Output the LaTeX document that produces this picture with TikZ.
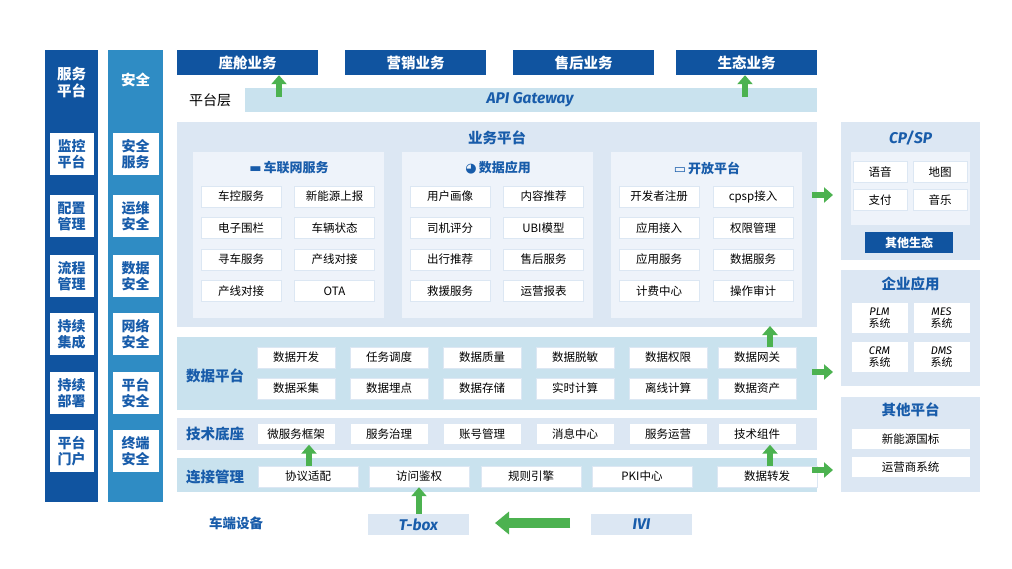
\documentclass[tikz,border=0pt]{standalone}
\usepackage{fontspec}
\setmainfont{Noto Sans CJK SC}
\newfontfamily\latf{Fira Sans}
\newfontfamily\symf{DejaVu Sans}
\usetikzlibrary{positioning,arrows.meta}
\definecolor{darkblue}{RGB}{16,84,160}
\definecolor{midblue}{RGB}{47,140,196}
\definecolor{paleblue}{RGB}{220,231,243}
\definecolor{palecyan}{RGB}{201,226,238}
\definecolor{inner}{RGB}{238,243,250}
\definecolor{textblue}{RGB}{24,92,170}
\definecolor{arrowgreen}{RGB}{76,178,80}
\tikzset{
  item/.style={draw=paleblue, fill=white, minimum width=78pt, minimum height=21pt, inner sep=0pt, font=\fontsize{11.5}{13}\selectfont},
  side/.style={fill=white, minimum width=44pt, minimum height=42pt, inner sep=0pt, align=center, font=\fontsize{14}{16}\selectfont\bfseries, text=textblue},
  biz/.style={fill=darkblue, text=white, minimum width=141pt, minimum height=25pt, inner sep=0pt, font=\fontsize{14.5}{16}\selectfont\bfseries},
  layer/.style={font=\fontsize{14.5}{16}\selectfont\bfseries, text=textblue},
  garrow/.style={arrowgreen, line width=6pt, -{Triangle[length=9pt,width=15pt]}},
}
\begin{document}
\begin{tikzpicture}[x=1pt,y=-1pt]
\useasboundingbox[fill=white] (0,0) rectangle (1012,568);

% left columns
\fill[darkblue] (45,50) rectangle (98,502);
\fill[midblue] (108,50) rectangle (163,502);
\node[text=white, align=center, font=\fontsize{14.5}{17}\selectfont\bfseries] (svc) at (71.5,82) {服务\\平台};
\node[text=white, font=\fontsize{14.5}{17}\selectfont\bfseries] (sec) at (135.5,80) {安全};
\foreach \t/\y [count=\i] in {监控\\平台/154, 配置\\管理/216, 流程\\管理/276, 持续\\集成/334, 持续\\部署/393, 平台\\门户/451}
  \node[side] (l\i) at (71.5,\y) {\t};
\foreach \t/\y [count=\i] in {安全\\服务/154, 运维\\安全/216, 数据\\安全/276, 网络\\安全/334, 平台\\安全/393, 终端\\安全/451}
  \node[side, minimum width=46pt] (s\i) at (135.5,\y) {\t};

% top business
\node[biz] (cab) at (247.5,62.5) {座舱业务};
\node[biz] (mkt) at (415.5,62.5) {营销业务};
\node[biz] (aft) at (583.5,62.5) {售后业务};
\node[biz] (eco) at (746.5,62.5) {生态业务};
\node[font=\fontsize{14}{16}\selectfont] (plat) at (210,100) {平台层};
\fill[palecyan] (245,88) rectangle (817,112);
\node[text=textblue, font=\latf\fontsize{15.5}{17}\selectfont\bfseries\itshape] (api) at (530,100) {API Gateway};
\draw[garrow] (279,97) -- (cab.south -| 279,0);
\draw[garrow] (745,97) -- (eco.south -| 745,0);

% business platform
\fill[paleblue] (177,122) rectangle (817,327);
\node[layer] (bizp) at (497,138) {业务平台};
\foreach \x in {193,402,611} \fill[inner] (\x,152) rectangle (\x+191,318);
\node[layer, font=\fontsize{13}{15}\selectfont\bfseries] (t1) at (289,168) {{\symf ▬}\,车联网服务};
\node[layer, font=\fontsize{13}{15}\selectfont\bfseries] (t2) at (498,168) {{\symf ◕}\,数据应用};
\node[layer, font=\fontsize{13}{15}\selectfont\bfseries] (t3) at (707,168) {{\symf ▭}\,开放平台};
\foreach \a/\b [count=\i] in {车控服务/新能源上报, 电子围栏/车辆状态, 寻车服务/产线对接, 产线对接/OTA} {
  \node[item, minimum width=80pt] (a\i) at (241,165+31.5*\i) {\a};
  \node[item, minimum width=80pt] (b\i) at (334.5,165+31.5*\i) {\b};
}
\foreach \a/\b [count=\i] in {用户画像/内容推荐, 司机评分/UBI模型, 出行推荐/售后服务, 救援服务/运营报表} {
  \node[item, minimum width=80pt] (c\i) at (450,165+31.5*\i) {\a};
  \node[item, minimum width=80pt] (d\i) at (543.5,165+31.5*\i) {\b};
}
\foreach \a/\b [count=\i] in {开发者注册/cpsp接入, 应用接入/权限管理, 应用服务/数据服务, 计费中心/操作审计} {
  \node[item, minimum width=80pt] (e\i) at (659,165+31.5*\i) {\a};
  \node[item, minimum width=80pt] (f\i) at (753,165+31.5*\i) {\b};
}

% data platform
\fill[palecyan] (177,337) rectangle (817,410);
\node[layer] (datap) at (215,376) {数据平台};
\foreach \a/\b/\x [count=\i] in {数据开发/数据采集/296, 任务调度/数据埋点/389, 数据质量/数据存储/482, 数据脱敏/实时计算/575, 数据权限/离线计算/668, 数据网关/数据资产/757} {
  \node[item] (dp\i) at (\x,357.5) {\a};
  \node[item] (dq\i) at (\x,388.5) {\b};
}
\draw[garrow] (dp6.north -| 770,0) -- (770,326);

% tech base
\fill[paleblue] (177,418) rectangle (817,450);
\node[layer] (techp) at (215,434) {技术底座};
\foreach \a/\x [count=\i] in {微服务框架/296, 服务治理/389, 账号管理/482, 消息中心/575, 服务运营/668, 技术组件/757}
  \node[item] (tb\i) at (\x,434) {\a};

% connection management
\fill[palecyan] (177,458) rectangle (817,492);
\node[layer] (connp) at (215,477) {连接管理};
\foreach \a/\x [count=\i] in {协议适配/308, 访问鉴权/419, 规则引擎/531, PKI中心/642, 数据转发/767}
  \node[item, minimum width=100pt] (cm\i) at (\x,476.5) {\a};
\draw[garrow] (cm1.north -| 309,0) -- (tb1.south -| 309,0);
\draw[garrow] (cm5.north -| 770,0) -- (tb6.south -| 770,0);

% vehicle side
\node[text=textblue, font=\fontsize{13.5}{15}\selectfont\bfseries] (veh) at (236,523) {车端设备};
\node[fill=paleblue, minimum width=101pt, minimum height=21pt, inner sep=0pt, text=textblue, font=\latf\fontsize{15.5}{17}\selectfont\bfseries\itshape] (tbox) at (418.5,524.5) {T-box};
\node[fill=paleblue, minimum width=101pt, minimum height=21pt, inner sep=0pt, text=textblue, font=\latf\fontsize{15.5}{17}\selectfont\bfseries\itshape] (ivi) at (641.5,524.5) {IVI};
\draw[garrow] (tbox.north -| 419,0) -- (cm2.south -| 419,0);
\draw[arrowgreen, line width=10pt, -{Triangle[length=14pt,width=22pt]}] (570,523) -- (495,523);

% right side
\fill[paleblue] (841,122) rectangle (980,260);
\node[layer, font=\latf\fontsize{15.5}{17}\selectfont\bfseries\itshape] (cpsp) at (910.5,138) {CP/SP};
\fill[inner] (851,152) rectangle (970,225);
\foreach \t/\x/\y [count=\i] in {语音/880/172, 地图/940/172, 支付/880/200, 音乐/940/200}
  \node[item, minimum width=54pt] (cp\i) at (\x,\y) {\t};
\node[fill=darkblue, text=white, minimum width=88pt, minimum height=21pt, inner sep=0pt, font=\fontsize{12}{14}\selectfont\bfseries] (oeco) at (909,242.5) {其他生态};

\fill[paleblue] (841,270) rectangle (980,386);
\node[layer] (ent) at (910.5,284) {企业应用};
\foreach \a/\x/\y [count=\i] in {PLM/879.5/318, MES/941.5/318, CRM/879.5/357, DMS/941.5/357}
  \node[item, minimum width=57pt, minimum height=31pt, align=center, font=\fontsize{11}{12}\selectfont] (en\i) at (\x,\y) {{\latf\itshape \a}\\系统};

\fill[paleblue] (841,397) rectangle (980,492);
\node[layer] (oth) at (910.5,410) {其他平台};
\node[item, minimum width=119pt] (ot1) at (910.5,439) {新能源国标};
\node[item, minimum width=119pt] (ot2) at (910.5,467) {运营商系统};

\draw[garrow] (812,195) -- (833,195);
\draw[garrow] (812,372) -- (833,372);
\draw[garrow] (812,470) -- (833,470);
\end{tikzpicture}
\end{document}
